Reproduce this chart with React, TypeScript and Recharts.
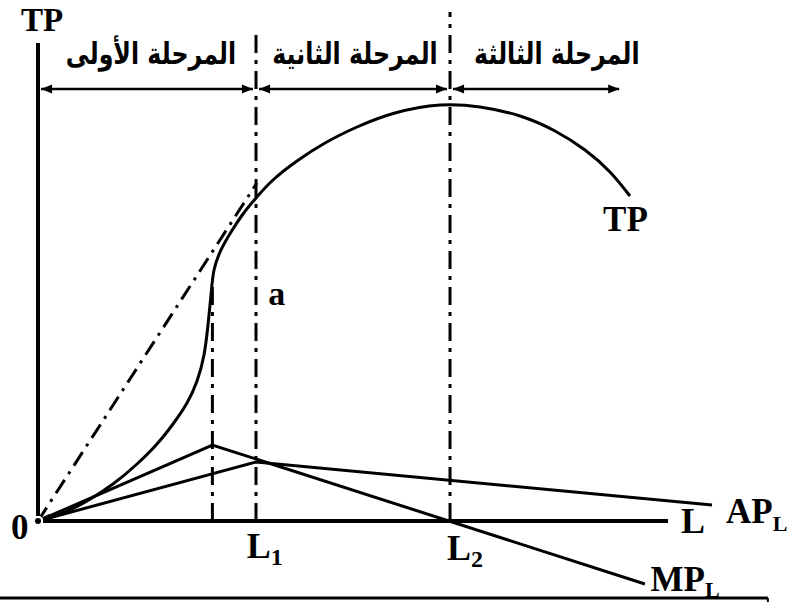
import React from 'react';
import { LineChart, Line, XAxis, YAxis, ReferenceLine, ReferenceDot } from 'recharts';

const W = 794;
const H = 602;
const X_DOMAIN: [number, number] = [-0.8716, 17.3394];
const Y_DOMAIN: [number, number] = [-20.25, 130.25];

// Total product curve (TP)
const tpL = [0, 0.573, 1.124, 1.72, 2.271, 2.729, 3.096, 3.417, 3.647, 3.807, 3.899, 3.968, 4.037, 4.197, 4.427, 4.702, 5.0, 5.39, 5.94, 6.583, 7.317, 8.188, 9.22, 10.138, 11.055, 11.858, 12.546, 13.119, 13.578];
const tpValues = [0, 2, 5, 9.25, 14.25, 19.25, 24.25, 29.5, 35, 41.5, 49, 56.5, 62.75, 67.75, 72.25, 76.75, 80.75, 85.25, 90, 94.5, 98.5, 102, 104, 103.5, 101.25, 97.5, 92.75, 87.25, 81.25];

// Marginal product (MP_L)
const mpL = [0, 4, 13.92];
const mpValues = [0, 19, -15.75];

// Average product (AP_L)
const apL = [0, 5, 15.46];
const apValues = [0, 14.75, 4];

// Ray from the origin (dash-dot)
const rayL = [0, 5.02];
const rayValues = [0, 84.5];

// Key labour levels
const L_A = 4;
const L_1 = 5;
const L_2 = 9.45;
const L_END = 13.4;
const aTop = 59;
const l1Top = 123.25;
const l2Top = 127.25;
const xAxisEnd = 14.45;
const yAxisTop = 119.5;

const stageLabels = ['المرحلة الأولى', 'المرحلة الثانية', 'المرحلة الثالثة'];
const stageCenters = [2.59, 7.27, 11.9];
const stageStart = [0, L_1, L_2];
const stageEnd = [L_1, L_2, L_END];

const toData = (xs: number[], ys: number[]) => xs.map((x, i) => ({ x, y: ys[i] }));
const tpData = toData(tpL, tpValues);
const mpData = toData(mpL, mpValues);
const apData = toData(apL, apValues);
const rayData = toData(rayL, rayValues);

const SERIF = "'Liberation Serif', 'Times New Roman', serif";
const ARABIC = "'DejaVu Sans', sans-serif";

const textShape = (txt: string, sub?: string, size = 35, subSize = 22, subDy = 8) => (p: any) => (
  <text x={p.cx} y={p.cy} fontFamily={SERIF} fontWeight="bold" fontSize={size} fill="#000">
    {txt}
    {sub ? (
      <tspan fontSize={subSize} dy={subDy}>
        {sub}
      </tspan>
    ) : null}
  </text>
);

const arabicShape = (txt: string) => (p: any) => (
  <text
    transform={`translate(${p.cx},${p.cy}) scale(0.79,1)`}
    x={0}
    y={0}
    fontFamily={ARABIC}
    fontWeight="bold"
    fontSize={30}
    fill="#000"
    textAnchor="middle"
    direction="rtl"
  >
    {txt}
  </text>
);

const arrowHead = (dir: number) => (p: any) => {
  const len = 11;
  const hw = 4.5;
  const { cx, cy } = p;
  const pts = `${cx},${cy} ${cx - dir * len},${cy - hw} ${cx - dir * len},${cy + hw}`;
  return <polygon points={pts} fill="#000" />;
};

const originArrow = (p: any) => {
  const { cx, cy } = p;
  const l = 13;
  const a1 = (27 * Math.PI) / 180;
  const a2 = (87 * Math.PI) / 180;
  const d = `M${cx + l * Math.cos(a1)},${cy - l * Math.sin(a1)} L${cx},${cy} L${cx + l * Math.cos(a2)},${cy - l * Math.sin(a2)}`;
  return <path d={d} stroke="#000" strokeWidth={2.5} fill="none" />;
};

const DASH = '18 7 4 7';
const ARROW_Y = 108;
const GAP = 0.07;

export default function App() {
  return (
    <div style={{ position: 'absolute', left: 0, top: 0, width: W, height: H, background: '#fff' }}>
      <LineChart width={W} height={H} margin={{ top: 0, right: 0, bottom: 0, left: 0 }}>
        <XAxis type="number" dataKey="x" domain={X_DOMAIN} hide allowDataOverflow />
        <YAxis type="number" domain={Y_DOMAIN} hide allowDataOverflow />

        {/* axes */}
        <ReferenceLine segment={[{ x: 0, y: 0 }, { x: 0, y: yAxisTop }]} stroke="#000" strokeWidth={4} ifOverflow="visible" />
        <ReferenceLine segment={[{ x: -0.03, y: 0 }, { x: xAxisEnd, y: 0 }]} stroke="#000" strokeWidth={4} ifOverflow="visible" />

        {/* vertical dash-dot guides */}
        <ReferenceLine segment={[{ x: L_A, y: 0 }, { x: L_A, y: aTop }]} stroke="#000" strokeWidth={3} strokeDasharray={DASH} ifOverflow="visible" />
        <ReferenceLine segment={[{ x: L_1, y: 0 }, { x: L_1, y: l1Top }]} stroke="#000" strokeWidth={3} strokeDasharray={DASH} ifOverflow="visible" />
        <ReferenceLine segment={[{ x: L_2, y: 0 }, { x: L_2, y: l2Top }]} stroke="#000" strokeWidth={3} strokeDasharray={DASH} ifOverflow="visible" />

        {/* bottom rule */}
        <ReferenceLine segment={[{ x: X_DOMAIN[0], y: -19.25 }, { x: 16.74, y: -19.25 }]} stroke="#000" strokeWidth={3} ifOverflow="visible" />
        <ReferenceLine segment={[{ x: 16.74, y: -19.25 }, { x: 16.74, y: -20.25 }]} stroke="#000" strokeWidth={2} ifOverflow="visible" />

        {/* stage arrows */}
        {stageStart.map((s, i) => (
          <ReferenceLine
            key={`sh${i}`}
            segment={[{ x: s + GAP, y: ARROW_Y }, { x: stageEnd[i] - GAP, y: ARROW_Y }]}
            stroke="#000"
            strokeWidth={2.5}
            ifOverflow="visible"
          />
        ))}
        {stageStart.map((s, i) => (
          <ReferenceDot key={`al${i}`} x={s + GAP} y={ARROW_Y} r={0} shape={arrowHead(-1)} ifOverflow="visible" />
        ))}
        {stageEnd.map((e, i) => (
          <ReferenceDot key={`ar${i}`} x={e - GAP} y={ARROW_Y} r={0} shape={arrowHead(1)} ifOverflow="visible" />
        ))}
        {stageLabels.map((t, i) => (
          <ReferenceDot key={`st${i}`} x={stageCenters[i]} y={114.25} r={0} shape={arabicShape(t)} ifOverflow="visible" />
        ))}

        {/* series */}
        <Line data={rayData} dataKey="y" type="linear" stroke="#000" strokeWidth={3} strokeDasharray="16 7 3 7" dot={false} isAnimationActive={false} />
        <Line data={apData} dataKey="y" type="linear" stroke="#000" strokeWidth={3} dot={false} isAnimationActive={false} />
        <Line data={mpData} dataKey="y" type="linear" stroke="#000" strokeWidth={3} dot={false} isAnimationActive={false} />
        <Line data={tpData} dataKey="y" type="natural" stroke="#000" strokeWidth={3} dot={false} isAnimationActive={false} />

        <ReferenceDot x={0} y={0} r={0} shape={originArrow} ifOverflow="visible" />

        {/* labels */}
        <ReferenceDot x={-0.39} y={122.5} r={0} shape={textShape('TP', undefined, 33)} ifOverflow="visible" />
        <ReferenceDot x={12.96} y={72.5} r={0} shape={textShape('TP', undefined, 35)} ifOverflow="visible" />
        <ReferenceDot x={5.28} y={54} r={0} shape={textShape('a', undefined, 34)} ifOverflow="visible" />
        <ReferenceDot x={-0.62} y={-4.5} r={0} shape={textShape('0', undefined, 35)} ifOverflow="visible" />
        <ReferenceDot x={4.79} y={-9.25} r={0} shape={textShape('L', '1', 36, 24, 7)} ifOverflow="visible" />
        <ReferenceDot x={9.38} y={-9.75} r={0} shape={textShape('L', '2', 36, 24, 7)} ifOverflow="visible" />
        <ReferenceDot x={14.75} y={-3} r={0} shape={textShape('L', undefined, 36)} ifOverflow="visible" />
        <ReferenceDot x={15.78} y={-0.5} r={0} shape={textShape('AP', 'L', 35, 22, 8)} ifOverflow="visible" />
        <ReferenceDot x={14.05} y={-17.5} r={0} shape={textShape('MP', 'L', 35, 22, 6)} ifOverflow="visible" />
      </LineChart>
    </div>
  );
}
